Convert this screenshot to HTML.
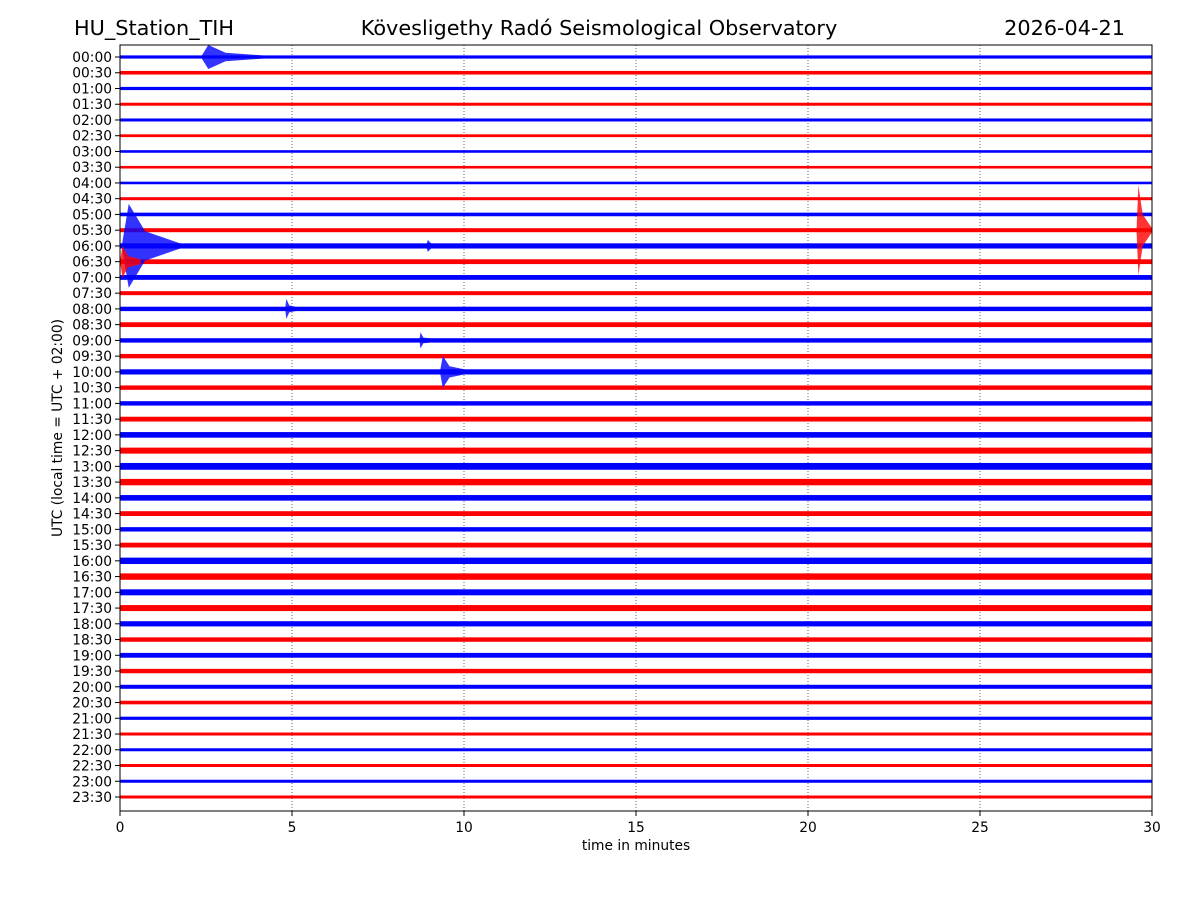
<!DOCTYPE html>
<html><head><meta charset="utf-8"><style>
body{margin:0;background:#fff;}
svg text{font-family:"DejaVu Sans","Liberation Sans",sans-serif;}
</style></head><body>
<svg id="chart" width="1200" height="900" viewBox="0 0 1200 900" xmlns="http://www.w3.org/2000/svg">
<rect width="1200" height="900" fill="#fff"/>
<text x="74" y="35" font-size="20.8">HU_Station_TIH</text>
<text x="599" y="35" font-size="20.8" text-anchor="middle">Kövesligethy Radó Seismological Observatory</text>
<text x="1125" y="35" font-size="20.8" text-anchor="end">2026-04-21</text>
<g id="grid"></g>
<g id="traces"></g>
<g id="events"></g>
<rect x="120" y="45" width="1032" height="766" fill="none" stroke="#000" stroke-width="1"/>
<g id="axes"></g>
<text x="636" y="850" font-size="13.8" text-anchor="middle">time in minutes</text>
<text transform="translate(62,428) rotate(-90)" font-size="13.8" text-anchor="middle">UTC (local time = UTC + 02:00)</text>
</svg>
<script>
const xTicks=[0,5,10,15,20,25,30];
const traceLabels=[];for(let h=0;h<24;h++){const s=String(h).padStart(2,'0');traceLabels.push(s+':00',s+':30');}
// half-thickness of noise band per trace (px)
const noiseAmp=[1.6,1.8,1.6,1.5,1.5,1.4,1.3,1.3,1.3,1.5,1.8,2.0,2.6,2.4,2.4,2.0,2.2,2.4,2.2,2.2,2.6,2.2,2.2,2.4,2.8,3.0,3.4,3.2,2.8,2.4,2.2,2.4,3.2,3.2,3.0,3.0,2.6,2.2,2.4,2.2,2.0,1.8,1.6,1.5,1.5,1.5,1.5,1.5];
// events: trace index, start minute, duration minutes, amplitude px
const eventTrace=[0,12,13,11,16,18,20,12];
const eventStart=[2.35,0.05,0.0,29.55,4.8,8.7,9.3,8.9];
const eventDur=[1.8,1.7,0.6,0.45,0.3,0.3,0.7,0.4];
const eventAmp=[12,42,16,45,10,8,16,6];

const X0=120,X1=1152,Y0=57,DY=(797-57)/47;
const xs=m=>X0+(m/30)*(X1-X0);
const ys=i=>Y0+i*DY;
const NS='http://www.w3.org/2000/svg';
function mk(t,a,p){const e=document.createElementNS(NS,t);for(const k in a)e.setAttribute(k,a[k]);p.appendChild(e);return e;}
const grid=document.getElementById('grid'),axes=document.getElementById('axes'),tr=document.getElementById('traces'),ev=document.getElementById('events');
xTicks.forEach(v=>{
 const x=xs(v);
 if(v>0&&v<30){const g=mk('line',{x1:x,x2:x,y1:45,y2:811,stroke:'#000','stroke-width':0.6,'stroke-dasharray':'1,2'},grid);
 
 }
 const t=mk('line',{x1:x,x2:x,y1:811,y2:816,stroke:'#000'},axes);
 
 
 const l=mk('text',{x:x,y:832,'font-size':13.8,'text-anchor':'middle'},axes);l.textContent=v;
 
 
});
traceLabels.forEach((lab,i)=>{
 const y=ys(i),c=i%2?'#ff0000':'#0000ff',a=noiseAmp[i];
 const r=mk('rect',{x:X0,y:y-a,width:X1-X0,height:2*a,fill:c},tr);
 
 
 const t=mk('line',{x1:115,x2:120,y1:y,y2:y,stroke:'#000'},axes);
 
 
 const l=mk('text',{x:112,y:y+5,'font-size':13.8,'text-anchor':'end'},axes);l.textContent=lab;
 
 
});
eventTrace.forEach((ti,k)=>{
 const y=ys(ti),c=ti%2?'#ff0000':'#0000ff';
 const s=eventStart[k],d=eventDur[k],A=eventAmp[k];
 const xa=xs(s),xp=xs(s+d*0.12),xe=Math.min(xs(s+d),X1);
 const pts=[[xa,y],[xp,y-A],[xa+(xe-xa)*0.4,y-A*0.35],[xe,y-noiseAmp[ti]],[xe,y+noiseAmp[ti]],[xa+(xe-xa)*0.4,y+A*0.35],[xp,y+A]];
 const p=mk('polygon',{points:pts.map(q=>q.join(',')).join(' '),fill:c,'fill-opacity':0.8},ev);
 
 
});
</script>
</body></html>
